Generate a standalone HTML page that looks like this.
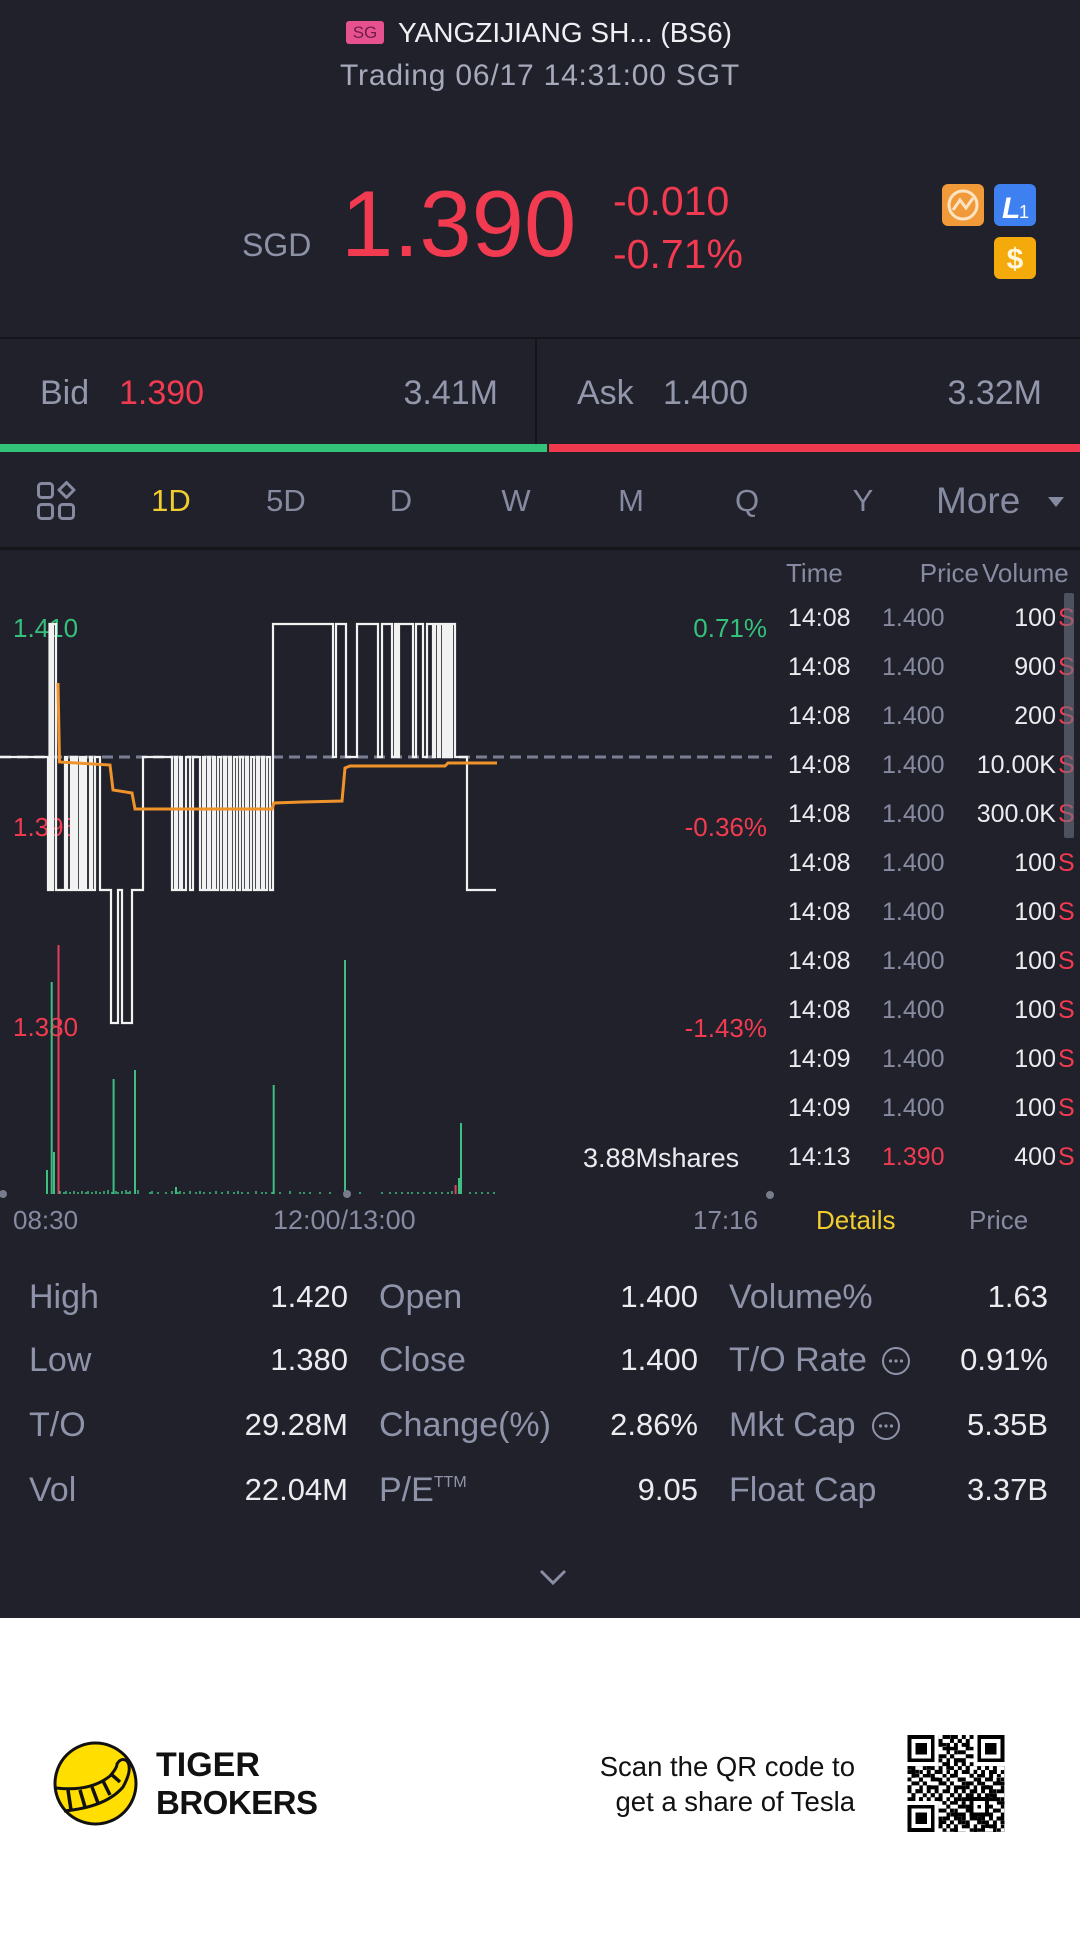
<!DOCTYPE html>
<html><head><meta charset="utf-8"><style>
html,body{margin:0;padding:0}
body{width:1080px;height:1950px;background:#20212a;position:relative;overflow:hidden;font-family:"Liberation Sans",sans-serif}
.t{position:absolute;white-space:nowrap;line-height:1}
.g{color:#878ba1}
.w{color:#ececf0}
.r{color:#f23a50}
.gr{color:#35c07c}
.y{color:#f1cd2d}
.tab{position:absolute;width:100px;text-align:center;font-size:31px;line-height:1;top:485px;color:#868aa0}
.lab{position:absolute;font-size:34px;line-height:1;color:#8f93a9;white-space:nowrap}
.val{position:absolute;font-size:31px;line-height:1;color:#ececf0;white-space:nowrap;text-align:right}
.row{position:absolute;left:0;width:1080px;height:25px}
.row span{position:absolute;font-size:25px;line-height:1;top:0;white-space:nowrap}
</style></head><body>

<!-- header -->
<div style="position:absolute;left:346px;top:21px;width:38px;height:23px;background:#e8518f;border-radius:3px;color:#6e1e46;font-size:17px;line-height:23px;text-align:center">SG</div>
<div class="t" style="left:398px;top:19px;font-size:28px;color:#f0f0f4">YANGZIJIANG SH... (BS6)</div>
<div class="t" style="left:0;width:1080px;text-align:center;top:61px;font-size:30px;letter-spacing:0.8px;color:#a6aabb">Trading 06/17 14:31:00 SGT</div>

<div class="t" style="left:242px;top:229px;font-size:32px;color:#8e92a7">SGD</div>
<div class="t r" style="left:341px;top:177px;font-size:94px">1.390</div>
<div class="t r" style="left:613px;top:181px;font-size:41px">-0.010</div>
<div class="t r" style="left:613px;top:234px;font-size:41px">-0.71%</div>

<!-- icons -->
<svg style="position:absolute;left:940px;top:182px" width="100" height="100">
  <rect x="2" y="2" width="42" height="42" rx="6" fill="#f09a3a"/>
  <circle cx="23" cy="23" r="14" fill="none" stroke="#fde4c2" stroke-width="3"/>
  <path d="M13,28 L20,18 L26,26 L33,16" fill="none" stroke="#fde4c2" stroke-width="3"/>
  <rect x="54" y="2" width="42" height="42" rx="6" fill="#3f80f0"/>
  <text x="62" y="36" font-family="Liberation Sans" font-weight="bold" font-style="italic" font-size="30" fill="#fff">L</text>
  <text x="79" y="36" font-family="Liberation Sans" font-size="18" fill="#fff">1</text>
  <rect x="54" y="55" width="42" height="42" rx="6" fill="#f5aa0c"/>
  <text x="75" y="87" text-anchor="middle" font-family="Liberation Sans" font-weight="bold" font-size="30" fill="#fff6dc">$</text>
</svg>

<div style="position:absolute;left:0;top:337px;width:1080px;height:2px;background:#14151b"></div>
<div style="position:absolute;left:535px;top:339px;width:2px;height:105px;background:#14151b"></div>

<div class="t" style="left:40px;top:376px;font-size:34px;color:#9397ab">Bid</div>
<div class="t r" style="left:119px;top:376px;font-size:34px">1.390</div>
<div class="t" style="right:582px;top:376px;font-size:34px;color:#9397ab">3.41M</div>
<div class="t" style="left:577px;top:376px;font-size:34px;color:#9397ab">Ask</div>
<div class="t" style="left:663px;top:376px;font-size:34px;color:#9397ab">1.400</div>
<div class="t" style="right:38px;top:376px;font-size:34px;color:#9397ab">3.32M</div>

<div style="position:absolute;left:0;top:444px;width:547px;height:8px;background:#33c47a"></div>
<div style="position:absolute;left:549px;top:444px;width:531px;height:8px;background:#ef3a4e"></div>

<!-- tabs -->
<svg style="position:absolute;left:35px;top:480px" width="44" height="42">
  <rect x="3.5" y="3.5" width="14" height="14" rx="3" fill="none" stroke="#868aa0" stroke-width="3"/>
  <rect x="3.5" y="24.5" width="14" height="14" rx="3" fill="none" stroke="#868aa0" stroke-width="3"/>
  <rect x="24.5" y="24.5" width="14" height="14" rx="3" fill="none" stroke="#868aa0" stroke-width="3"/>
  <path d="M31.5,2.5 L39,10 L31.5,17.5 L24,10 Z" fill="none" stroke="#868aa0" stroke-width="3" stroke-linejoin="round"/>
</svg>
<div class="tab" style="left:121px;color:#f1cd2d">1D</div>
<div class="tab" style="left:236px">5D</div>
<div class="tab" style="left:351px">D</div>
<div class="tab" style="left:466px">W</div>
<div class="tab" style="left:581px">M</div>
<div class="tab" style="left:697px">Q</div>
<div class="tab" style="left:813px">Y</div>
<div class="t" style="left:936px;top:482px;font-size:37px;color:#868aa0">More</div>
<div style="position:absolute;left:1048px;top:497px;width:0;height:0;border-left:8px solid transparent;border-right:8px solid transparent;border-top:10px solid #868aa0"></div>
<div style="position:absolute;left:0;top:547px;width:1080px;height:3px;background:#15161c"></div>

<!-- chart labels -->
<div class="t gr" style="left:13px;top:615px;font-size:26px">1.410</div>
<div class="t r" style="left:13px;top:814px;font-size:26px">1.395</div>
<div class="t r" style="left:13px;top:1014px;font-size:26px">1.380</div>
<div class="t gr" style="right:313px;top:615px;font-size:26px">0.71%</div>
<div class="t r" style="right:313px;top:814px;font-size:26px">-0.36%</div>
<div class="t r" style="right:313px;top:1015px;font-size:26px">-1.43%</div>
<div class="t w" style="left:583px;top:1145px;font-size:27px">3.88Mshares</div>

<svg style="position:absolute;left:0;top:0" width="1080" height="1240">
  <line x1="0" y1="757" x2="772" y2="757" stroke="#7a7e93" stroke-width="3" stroke-dasharray="11,6"/>
  <!-- volume -->
  <g stroke-width="2">
    <line x1="47" y1="1194" x2="47" y2="1170" stroke="#3cbf80"/>
    <line x1="51.7" y1="1194" x2="51.7" y2="982" stroke="#3cbf80"/>
    <line x1="54" y1="1194" x2="54" y2="1152" stroke="#3cbf80"/>
    <line x1="58.5" y1="1194" x2="58.5" y2="945" stroke="#e0405a"/>
    <line x1="113.6" y1="1194" x2="113.6" y2="1079" stroke="#3cbf80"/>
    <line x1="135" y1="1194" x2="135" y2="1070" stroke="#3cbf80"/>
    <line x1="176" y1="1194" x2="176" y2="1187" stroke="#3cbf80"/>
    <line x1="273.7" y1="1194" x2="273.7" y2="1085" stroke="#3cbf80"/>
    <line x1="345" y1="1194" x2="345" y2="960" stroke="#3cbf80"/>
    <line x1="455.6" y1="1194" x2="455.6" y2="1185" stroke="#e0405a"/>
    <line x1="459" y1="1194" x2="459" y2="1178" stroke="#3cbf80"/>
    <line x1="461" y1="1194" x2="461" y2="1123" stroke="#3cbf80"/>
  </g>
  <path d="M60 1194v-3M64 1194v-2M66 1194v-3M70 1194v-2M74 1194v-3M78 1194v-2M82 1194v-3M86 1194v-2M88 1194v-3M92 1194v-2M96 1194v-3M100 1194v-2M104 1194v-3M108 1194v-4M112 1194v-2M116 1194v-3M118 1194v-2M122 1194v-3M126 1194v-4M128 1194v-2M130 1194v-3M138 1194v-4M150 1194v-2M152 1194v-3M158 1194v-2M166 1194v-2M172 1194v-3M178 1194v-2M180 1194v-3M184 1194v-2M190 1194v-3M196 1194v-2M200 1194v-3M204 1194v-2M210 1194v-2M216 1194v-3M222 1194v-2M228 1194v-3M234 1194v-2M238 1194v-3M242 1194v-2M248 1194v-2M256 1194v-3M262 1194v-2M266 1194v-2M272 1194v-2M280 1194v-2M290 1194v-3M300 1194v-2M304 1194v-2M310 1194v-2M320 1194v-2M330 1194v-2M360 1194v-2M382 1194v-2M390 1194v-2M396 1194v-2M402 1194v-2M408 1194v-2M412 1194v-2M418 1194v-2M424 1194v-2M430 1194v-2M436 1194v-2M442 1194v-2M448 1194v-2M452 1194v-3M470 1194v-2M476 1194v-2M482 1194v-2M488 1194v-2M494 1194v-2" stroke="#3cbf80" stroke-width="1.5"/>
  <circle cx="3" cy="1194" r="4" fill="#777b8c"/>
  <circle cx="347" cy="1194" r="4" fill="#777b8c"/>
  <circle cx="770" cy="1195" r="4" fill="#777b8c"/>
  <!-- price line -->
  <path fill="none" stroke="#f2f2f2" stroke-width="2.2" stroke-linejoin="miter" d="M0,757 H48 V890 H49.5 V624 H51 V890 H53 V624 H56 V890 H65 V757 H67 V890 H71 V757 H73 V890 H75 V757 H77 V890 H80 V757 H82 V890 H84 V757 H86 V890 H90 V757 H92 V890 H95 V757 H100 V890 H111 V1023 H118 V890 H122 V1023 H132 V890 H143 V757 H172 V890 H175 V757 H177 V890 H180 V757 H182 V890 H186 V757 H190 V890 H193 V757 H200 V890 H203 V757 H205 V890 H208 V757 H210 V890 H213 V757 H215 V890 H218 V757 H221 V890 H224 V757 H226 V890 H229 V757 H231 V890 H234 V757 H237 V890 H240 V757 H243 V890 H246 V757 H248 V890 H251 V757 H254 V890 H257 V757 H259 V890 H262 V757 H264 V890 H267 V757 H270 V890 H273 V624 H333 V757 H336 V624 H346 V757 H357 V624 H378 V757 H382 V624 H392 V757 H395 V624 H397 V757 H399 V624 H413 V757 H416 V624 H423 V757 H427 V624 H433 V757 H435 V624 H438 V757 H440 V624 H443 V757 H445 V624 H447 V757 H449 V624 H451 V757 H452 V624 H455 V757 H467 V890 H496"/>
  <path fill="none" stroke="#f0932b" stroke-width="3" d="M58,683 L59.5,762 L110,765 L113,790 L132,793 L135,809 L272,809 L274,803 L302,802 L342,801 L345,768 L350,766 L445,766 L448,763 L497,763"/>
</svg>

<!-- trade table -->
<div class="t g" style="left:786px;top:560px;font-size:26px">Time</div>
<div class="t g" style="right:101px;top:560px;font-size:26px">Price</div>
<div class="t g" style="left:982px;top:560px;font-size:26px">Volume</div>

<div class="row" style="top:606px"><span class="w" style="left:788px">14:08</span><span class="g" style="left:882px">1.400</span><span class="w" style="right:24px">100</span><span class="r" style="left:1058px">S</span></div>
<div class="row" style="top:655px"><span class="w" style="left:788px">14:08</span><span class="g" style="left:882px">1.400</span><span class="w" style="right:24px">900</span><span class="r" style="left:1058px">S</span></div>
<div class="row" style="top:704px"><span class="w" style="left:788px">14:08</span><span class="g" style="left:882px">1.400</span><span class="w" style="right:24px">200</span><span class="r" style="left:1058px">S</span></div>
<div class="row" style="top:753px"><span class="w" style="left:788px">14:08</span><span class="g" style="left:882px">1.400</span><span class="w" style="right:24px">10.00K</span><span class="r" style="left:1058px">S</span></div>
<div class="row" style="top:802px"><span class="w" style="left:788px">14:08</span><span class="g" style="left:882px">1.400</span><span class="w" style="right:24px">300.0K</span><span class="r" style="left:1058px">S</span></div>
<div class="row" style="top:851px"><span class="w" style="left:788px">14:08</span><span class="g" style="left:882px">1.400</span><span class="w" style="right:24px">100</span><span class="r" style="left:1058px">S</span></div>
<div class="row" style="top:900px"><span class="w" style="left:788px">14:08</span><span class="g" style="left:882px">1.400</span><span class="w" style="right:24px">100</span><span class="r" style="left:1058px">S</span></div>
<div class="row" style="top:949px"><span class="w" style="left:788px">14:08</span><span class="g" style="left:882px">1.400</span><span class="w" style="right:24px">100</span><span class="r" style="left:1058px">S</span></div>
<div class="row" style="top:998px"><span class="w" style="left:788px">14:08</span><span class="g" style="left:882px">1.400</span><span class="w" style="right:24px">100</span><span class="r" style="left:1058px">S</span></div>
<div class="row" style="top:1047px"><span class="w" style="left:788px">14:09</span><span class="g" style="left:882px">1.400</span><span class="w" style="right:24px">100</span><span class="r" style="left:1058px">S</span></div>
<div class="row" style="top:1096px"><span class="w" style="left:788px">14:09</span><span class="g" style="left:882px">1.400</span><span class="w" style="right:24px">100</span><span class="r" style="left:1058px">S</span></div>
<div class="row" style="top:1145px"><span class="w" style="left:788px">14:13</span><span class="r" style="left:882px">1.390</span><span class="w" style="right:24px">400</span><span class="r" style="left:1058px">S</span></div>
<div style="position:absolute;left:1064px;top:593px;width:10px;height:245px;background:rgba(110,114,130,0.6);border-radius:2px"></div>

<div class="t g" style="left:13px;top:1207px;font-size:26px">08:30</div>
<div class="t g" style="left:273px;top:1207px;font-size:27px">12:00/13:00</div>
<div class="t g" style="left:693px;top:1207px;font-size:26px">17:16</div>
<div class="t y" style="left:816px;top:1207px;font-size:26px">Details</div>
<div class="t g" style="left:969px;top:1207px;font-size:26px">Price</div>

<!-- stats -->
<div class="lab" style="left:29px;top:1280px">High</div>
<div class="val" style="right:732px;top:1281px">1.420</div>
<div class="lab" style="left:379px;top:1280px">Open</div>
<div class="val" style="right:382px;top:1281px">1.400</div>
<div class="lab" style="left:729px;top:1280px">Volume%</div>
<div class="val" style="right:32px;top:1281px">1.63</div>

<div class="lab" style="left:29px;top:1343px">Low</div>
<div class="val" style="right:732px;top:1344px">1.380</div>
<div class="lab" style="left:379px;top:1343px">Close</div>
<div class="val" style="right:382px;top:1344px">1.400</div>
<div class="lab" style="left:729px;top:1343px">T/O Rate</div>
<div class="val" style="right:32px;top:1344px">0.91%</div>

<div class="lab" style="left:29px;top:1408px">T/O</div>
<div class="val" style="right:732px;top:1409px">29.28M</div>
<div class="lab" style="left:379px;top:1408px">Change(%)</div>
<div class="val" style="right:382px;top:1409px">2.86%</div>
<div class="lab" style="left:729px;top:1408px">Mkt Cap</div>
<div class="val" style="right:32px;top:1409px">5.35B</div>

<div class="lab" style="left:29px;top:1473px">Vol</div>
<div class="val" style="right:732px;top:1474px">22.04M</div>
<div class="lab" style="left:379px;top:1473px">P/E<span style="font-size:16px;position:relative;top:-14px">TTM</span></div>
<div class="val" style="right:382px;top:1474px">9.05</div>
<div class="lab" style="left:729px;top:1473px">Float Cap</div>
<div class="val" style="right:32px;top:1474px">3.37B</div>

<svg style="position:absolute;left:880px;top:1345px" width="32" height="32"><circle cx="16" cy="16" r="13" fill="none" stroke="#8f93a9" stroke-width="2"/><circle cx="10.5" cy="16" r="1.6" fill="#8f93a9"/><circle cx="16" cy="16" r="1.6" fill="#8f93a9"/><circle cx="21.5" cy="16" r="1.6" fill="#8f93a9"/></svg>
<svg style="position:absolute;left:870px;top:1410px" width="32" height="32"><circle cx="16" cy="16" r="13" fill="none" stroke="#8f93a9" stroke-width="2"/><circle cx="10.5" cy="16" r="1.6" fill="#8f93a9"/><circle cx="16" cy="16" r="1.6" fill="#8f93a9"/><circle cx="21.5" cy="16" r="1.6" fill="#8f93a9"/></svg>

<svg style="position:absolute;left:536px;top:1566px" width="34" height="22"><polyline points="5,5 17,17 29,5" fill="none" stroke="#8a8ea4" stroke-width="3"/></svg>

<!-- footer -->
<div style="position:absolute;left:0;top:1618px;width:1080px;height:332px;background:#fff"></div>
<svg style="position:absolute;left:0;top:1700px" width="200" height="160">
  <circle cx="95.5" cy="83.5" r="40.5" fill="#ffde00" stroke="#111" stroke-width="3"/>
  <path d="M56,88 Q90,92 110,76 Q117,68 117,64 Q121,57 127,61 Q133,69 123,87 Q106,107 64,111" fill="none" stroke="#111" stroke-width="3"/>
  <g stroke="#111" stroke-width="3.5">
    <line x1="68" y1="90" x2="71" y2="110"/>
    <line x1="80" y1="90" x2="85" y2="107"/>
    <line x1="92" y1="87" x2="98" y2="103"/>
    <line x1="103" y1="81" x2="110" y2="95"/>
    <line x1="111" y1="74" x2="120" y2="82"/>
  </g>
</svg>
<div class="t" style="left:156px;top:1748px;font-size:34px;font-weight:bold;color:#111">TIGER</div>
<div class="t" style="left:156px;top:1786px;font-size:33px;font-weight:bold;color:#111;letter-spacing:-0.5px">BROKERS</div>
<div class="t" style="right:225px;top:1753px;font-size:27.5px;color:#111">Scan the QR code to</div>
<div class="t" style="right:225px;top:1788px;font-size:27.5px;color:#111">get a share of Tesla</div>

<svg style="position:absolute;left:907px;top:1735px" width="98" height="97" viewBox="0 0 25 25" shape-rendering="crispEdges">
  <defs>
    <pattern id="q" width="7" height="7" patternUnits="userSpaceOnUse">
      <path d="M0 0h1v1h-1zM2 0h2v1h-2zM5 0h1v1h-1zM1 1h1v1h-1zM4 1h1v1h-1zM6 1h1v1h-1zM0 2h2v1h-2zM3 2h1v1h-1zM5 2h1v1h-1zM2 3h1v1h-1zM4 3h2v1h-2zM0 4h1v1h-1zM3 4h1v1h-1zM6 4h1v1h-1zM1 5h2v1h-2zM4 5h1v1h-1zM0 6h1v1h-1zM3 6h1v1h-1zM5 6h2v1h-2z" fill="#000"/>
    </pattern>
    <pattern id="q2" width="5" height="5" patternUnits="userSpaceOnUse">
      <path d="M1 0h1v1h-1zM3 1h1v1h-1zM0 3h1v1h-1zM2 4h1v1h-1zM4 2h1v1h-1z" fill="#000"/>
    </pattern>
  </defs>
  <rect width="25" height="25" fill="#fff"/>
  <rect width="25" height="25" fill="url(#q)"/>
  <rect width="25" height="25" fill="url(#q2)"/>
  <g>
    <rect x="0" y="0" width="8" height="8" fill="#fff"/><rect x="0" y="0" width="7" height="7" fill="#000"/><rect x="1" y="1" width="5" height="5" fill="#fff"/><rect x="2" y="2" width="3" height="3" fill="#000"/>
    <rect x="17" y="0" width="8" height="8" fill="#fff"/><rect x="18" y="0" width="7" height="7" fill="#000"/><rect x="19" y="1" width="5" height="5" fill="#fff"/><rect x="20" y="2" width="3" height="3" fill="#000"/>
    <rect x="0" y="17" width="8" height="8" fill="#fff"/><rect x="0" y="18" width="7" height="7" fill="#000"/><rect x="1" y="19" width="5" height="5" fill="#fff"/><rect x="2" y="20" width="3" height="3" fill="#000"/>
    <rect x="16" y="16" width="5" height="5" fill="#000"/><rect x="17" y="17" width="3" height="3" fill="#fff"/><rect x="18" y="18" width="1" height="1" fill="#000"/>
  </g>
</svg>

</body></html>
